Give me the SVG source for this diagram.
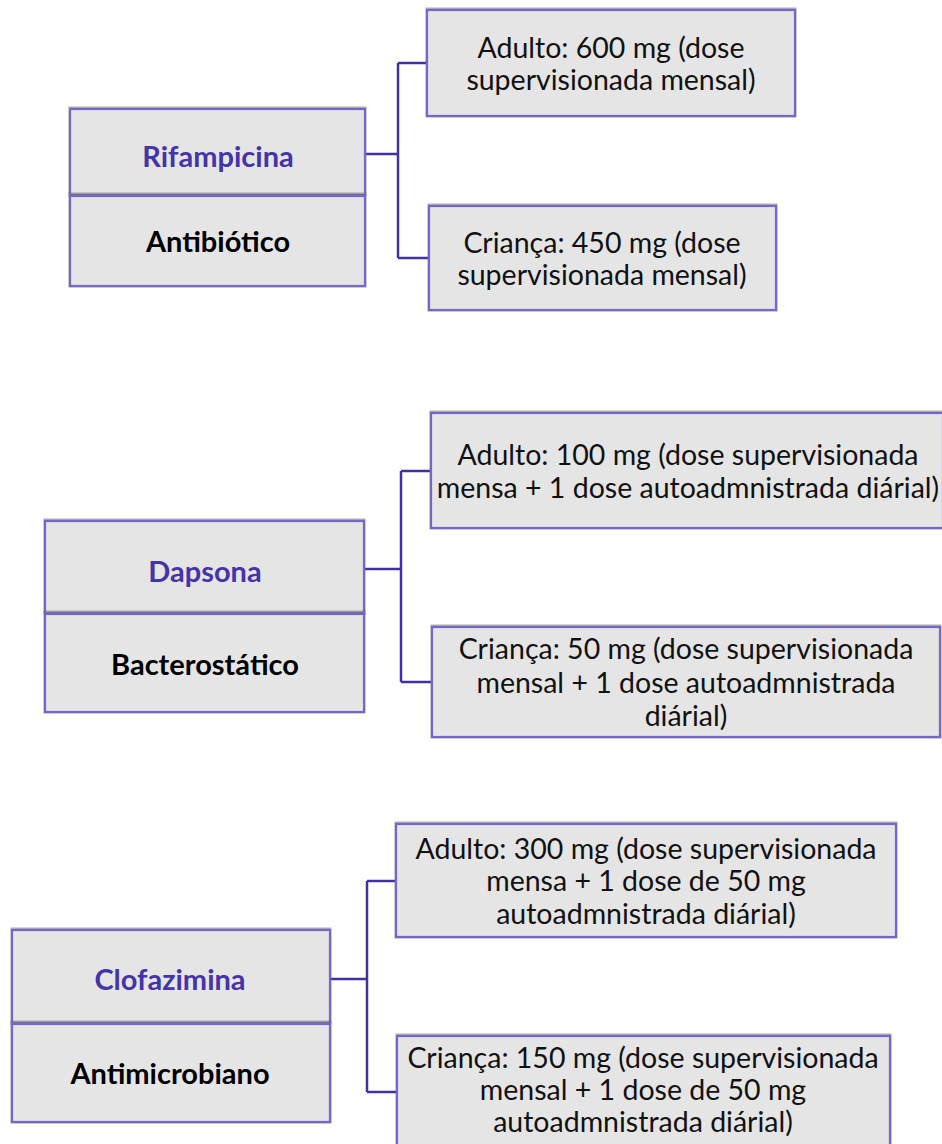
<svg xmlns="http://www.w3.org/2000/svg" width="942" height="1144" viewBox="0 0 942 1144">
<style>
.bx{fill:#e5e5e5;stroke:#7566c9;stroke-width:2.2}
.sh{fill:none;stroke:#6e6e6e;stroke-width:3;opacity:.55}
.con{fill:none;stroke:#4131a4;stroke-width:2.5}
.t{font-family:Lato,"Open Sans",sans-serif;font-size:28.5px;fill:#111;text-anchor:middle}
.h{font-family:Lato,"Open Sans",sans-serif;font-size:29px;font-weight:bold;text-anchor:middle}
.p{fill:#4433aa}
.k{fill:#000}
</style>
<rect width="942" height="1144" fill="#fff"/>
<g id="connectors">
<path class="con" d="M365,154H398M398,63V258M398,63H427M398,258H430"/>
<path class="con" d="M364,569H401M401,471V682M401,471H431M401,682H432"/>
<path class="con" d="M330,979H367M367,881V1092M367,881H396M367,1092H397"/>
</g>
<g id="rifampicina">
<rect class="sh" x="70" y="108" width="295" height="87"/>
<rect class="bx" x="70" y="109" width="295" height="86"/>
<text class="h p" x="218" y="167">Rifampicina</text>
</g>
<g id="antibiotico">
<rect class="sh" x="70" y="194" width="295" height="92"/>
<rect class="bx" x="70" y="196" width="295" height="90"/>
<text class="h k" x="218" y="252">Antibiótico</text>
</g>
<g id="rif-adulto">
<rect class="sh" x="427" y="9" width="368" height="107"/>
<rect class="bx" x="427" y="10" width="368" height="106"/>
<text class="t" x="611" y="58">Adulto: 600 mg (dose</text>
<text class="t" x="611" y="90">supervisionada mensal)</text>
</g>
<g id="rif-crianca">
<rect class="sh" x="429" y="205" width="347" height="105"/>
<rect class="bx" x="429" y="206" width="347" height="104"/>
<text class="t" x="602" y="253">Criança: 450 mg (dose</text>
<text class="t" x="602" y="285">supervisionada mensal)</text>
</g>
<g id="dapsona">
<rect class="sh" x="45" y="520" width="319" height="93"/>
<rect class="bx" x="45" y="521" width="319" height="92"/>
<text class="h p" x="205" y="582">Dapsona</text>
</g>
<g id="bacterostatico">
<rect class="sh" x="45" y="612" width="319" height="100"/>
<rect class="bx" x="45" y="614" width="319" height="98"/>
<text class="h k" x="205" y="675">Bacterostático</text>
</g>
<g id="dap-adulto">
<rect class="sh" x="431" y="412" width="512" height="116"/>
<rect class="bx" x="431" y="413" width="512" height="115"/>
<text class="t" x="688" y="465">Adulto: 100 mg (dose supervisionada</text>
<text class="t" x="688" y="498">mensa + 1 dose autoadmnistrada diárial)</text>
</g>
<g id="dap-crianca">
<rect class="sh" x="432" y="626" width="508" height="111"/>
<rect class="bx" x="432" y="627" width="508" height="110"/>
<text class="t" x="686" y="659">Criança: 50 mg (dose supervisionada</text>
<text class="t" x="686" y="693">mensal + 1 dose autoadmnistrada</text>
<text class="t" x="686" y="726">diárial)</text>
</g>
<g id="clofazimina">
<rect class="sh" x="12" y="929" width="318" height="94"/>
<rect class="bx" x="12" y="930" width="318" height="93"/>
<text class="h p" x="170" y="990">Clofazimina</text>
</g>
<g id="antimicrobiano">
<rect class="sh" x="12" y="1022" width="318" height="100"/>
<rect class="bx" x="12" y="1024" width="318" height="98"/>
<text class="h k" x="170" y="1084">Antimicrobiano</text>
</g>
<g id="clo-adulto">
<rect class="sh" x="396" y="823" width="500" height="114"/>
<rect class="bx" x="396" y="824" width="500" height="113"/>
<text class="t" x="646" y="859">Adulto: 300 mg (dose supervisionada</text>
<text class="t" x="646" y="891">mensa + 1 dose de 50 mg</text>
<text class="t" x="646" y="924">autoadmnistrada diárial)</text>
</g>
<g id="clo-crianca">
<rect class="sh" x="397" y="1035" width="493" height="120"/>
<rect class="bx" x="397" y="1036" width="493" height="120"/>
<text class="t" x="643" y="1068">Criança: 150 mg (dose supervisionada</text>
<text class="t" x="643" y="1100">mensal + 1 dose de 50 mg</text>
<text class="t" x="643" y="1132">autoadmnistrada diárial)</text>
</g>
</svg>
